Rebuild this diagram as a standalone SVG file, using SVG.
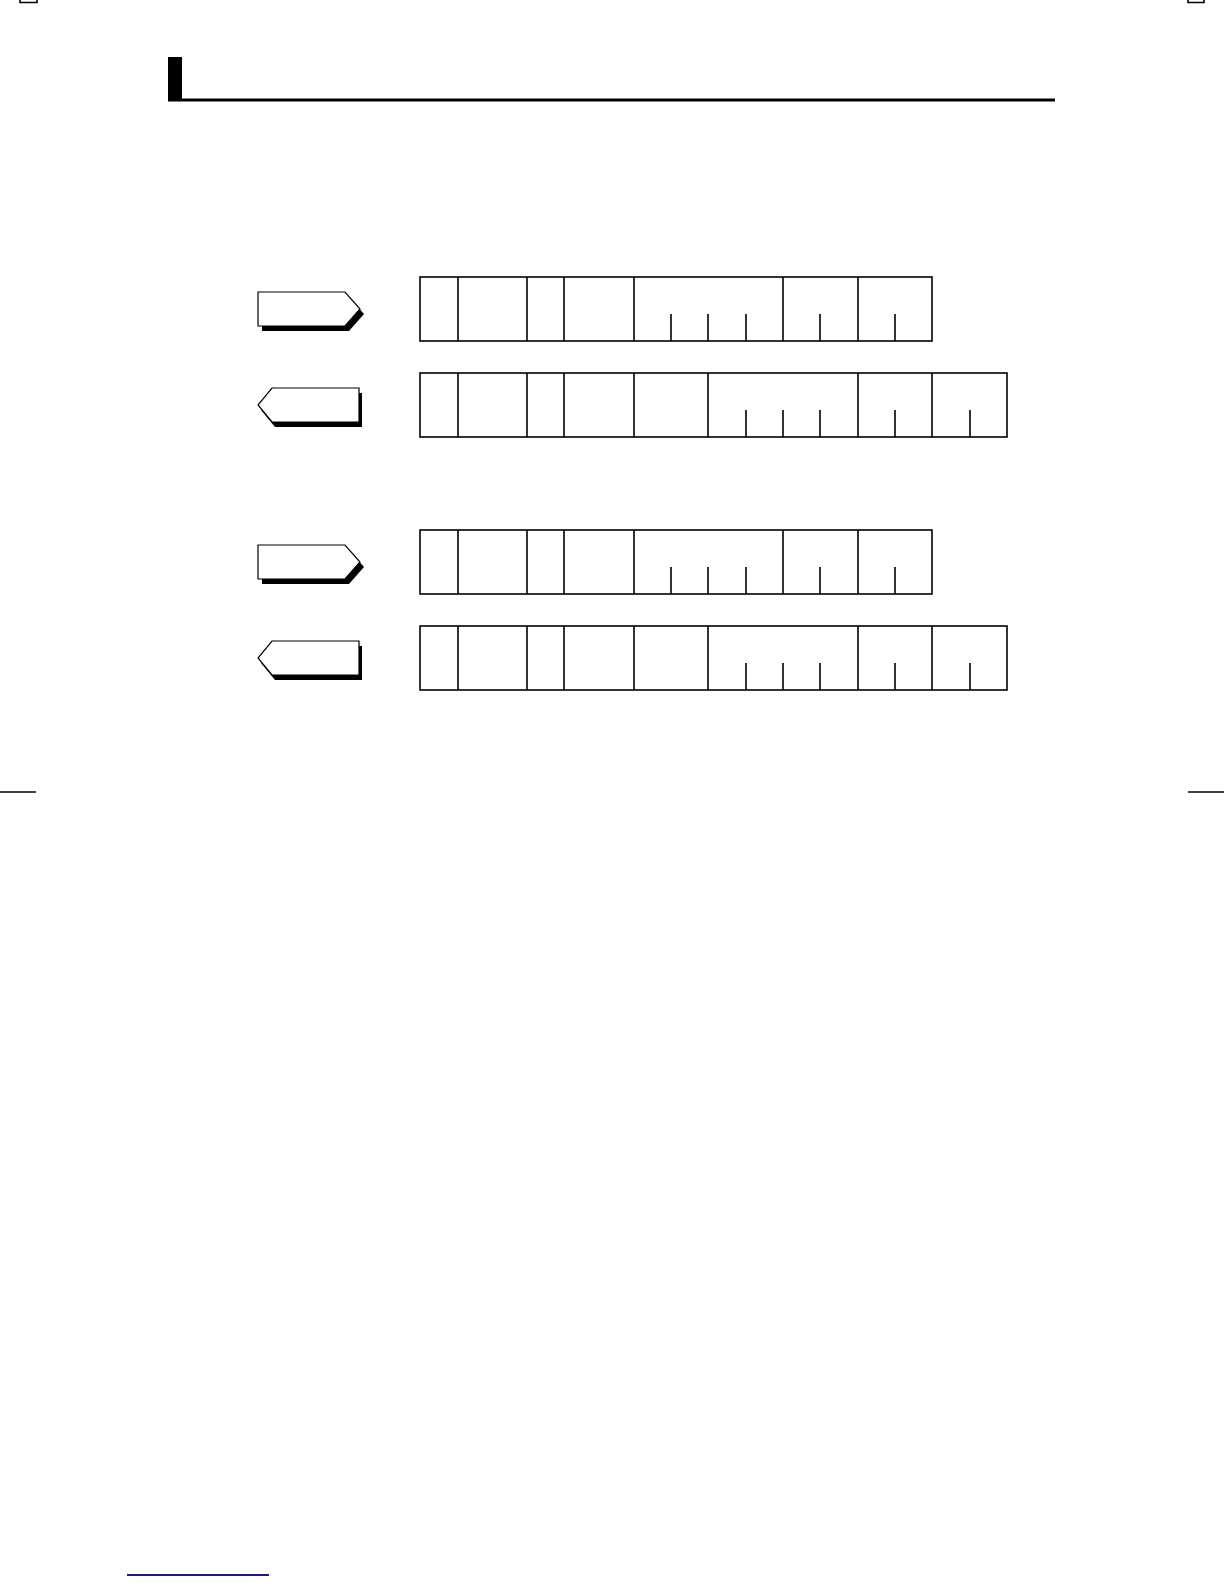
<svg xmlns="http://www.w3.org/2000/svg" width="1224" height="1584" viewBox="0 0 1224 1584">
<style>
.ln{stroke:#000;stroke-width:1.6;fill:none}
.box{stroke:#000;stroke-width:1.6;fill:#fff}
.sh{fill:#000;stroke:none}
.ar{fill:#fff;stroke:#000;stroke-width:1.2}
</style>
<defs>
<g id="tblA">
<rect class="box" x="420" y="0" width="512" height="64"/>
<path class="ln" d="M458 0V64M527 0V64M564 0V64M634 0V64M783 0V64M858 0V64M671 37V64M708 37V64M746 37V64M820 37V64M895 37V64"/>
</g>
<g id="tblB">
<rect class="box" x="420" y="0" width="587" height="64"/>
<path class="ln" d="M458 0V64M527 0V64M564 0V64M634 0V64M708 0V64M858 0V64M932 0V64M746 37V64M783 37V64M820 37V64M895 37V64M970 37V64"/>
</g>
<g id="arR">
<polygon class="sh" points="262,297 349,297 364,314 349,331 262,331"/>
<polygon class="ar" points="258,292 345,292 360,309 345,326 258,326"/>
</g>
<g id="arL">
<polygon class="sh" points="275,393 362,393 362,427 275,427 261,410"/>
<polygon class="ar" points="272,388 359,388 359,422 272,422 258,405"/>
</g>
</defs>
<g id="page-marks">
<path class="ln" d="M20 0V2.5H37V0M1188 0V2.5H1204V0M0 792H36M1188 792H1224"/>
<rect x="168" y="57" width="14" height="44" fill="#000"/>
<rect x="168" y="98.5" width="887" height="3" fill="#000"/>
<line x1="127" y1="1575" x2="269" y2="1575" stroke="#1a1a8c" stroke-width="2"/>
</g>
<g id="node-arrow1"><use href="#arR"/></g>
<g id="node-arrow2"><use href="#arL"/></g>
<g id="node-arrow3"><use href="#arR" y="253"/></g>
<g id="node-arrow4"><use href="#arL" y="253"/></g>
<g id="node-table1"><use href="#tblA" y="277"/></g>
<g id="node-table2"><use href="#tblB" y="373"/></g>
<g id="node-table3"><use href="#tblA" y="530"/></g>
<g id="node-table4"><use href="#tblB" y="626"/></g>
<g id="connectors"></g>
</svg>
